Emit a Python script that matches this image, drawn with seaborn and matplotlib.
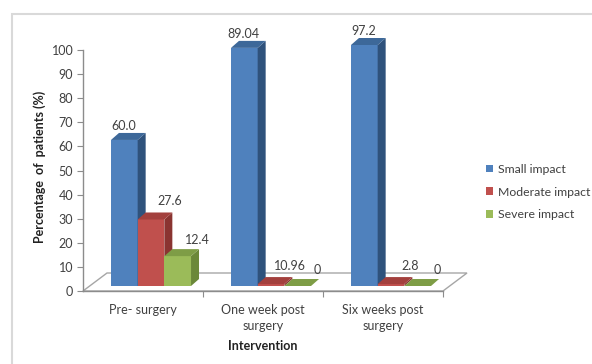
import numpy as np
import pandas as pd
import matplotlib
matplotlib.use("Agg")
import matplotlib.pyplot as plt
from matplotlib.patches import Polygon, Rectangle, Patch
from matplotlib.transforms import ScaledTranslation
import seaborn as sns

# values (bar heights) and the printed data labels
categories = ["Pre- surgery", "One week post\nsurgery", "Six weeks post\nsurgery"]
series = ["Small impact", "Moderate impact", "Severe impact"]
small_impact = [60.6, 98.8, 100.0]
moderate_impact = [27.6, 0.8, 0.8]
severe_impact = [12.4, 0.0, 0.0]
small_labels = ["60.0", "89.04", "97.2"]
moderate_labels = ["27.6", "10.96", "2.8"]
severe_labels = ["12.4", "0", "0"]
y_ticks = list(range(0, 101, 10))

front_colors = ["#4F81BD", "#C0504D", "#9BBB59"]
side_colors = ["#2F527C", "#8A3431", "#6B8839"]
top_colors = ["#3D6899", "#A3403D", "#7E9D46"]
text_color = "#404040"
axis_color = "#8C8C8C"

sns.set_theme(style="white")
plt.rcParams["font.family"] = ["Lato", "DejaVu Sans"]

df = pd.DataFrame({
    "Intervention": categories * 3,
    "Impact": np.repeat(series, 3),
    "Percent": small_impact + moderate_impact + severe_impact,
})
labels = [small_labels, moderate_labels, severe_labels]

W, H = 592, 364
fig = plt.figure(figsize=(W / 100, H / 100), dpi=100)
ax = fig.add_axes([83 / W, 73 / H, 360 / W, 241 / H])

sns.barplot(data=df, x="Intervention", y="Percent", hue="Impact",
            order=categories, hue_order=series, palette=front_colors,
            width=0.667, saturation=1, legend=False, ax=ax)
ax.set_xlim(-0.5, 2.5)
ax.set_ylim(0, 100)

# pixel -> data scale, used for the fake 3D depth
px_x = 360 / 3.0
px_y = 241 / 100.0

# floor of the 3D box
fdx, fdy = 24 / px_x, 18 / px_y
floor = Polygon([(-0.5, 0), (2.5, 0), (2.5 + fdx, fdy), (-0.5 + fdx, fdy)],
                closed=True, facecolor="white", edgecolor="#A6A6A6",
                lw=1, clip_on=False, zorder=1)
ax.add_patch(floor)

# bars sit a little inside the floor
shift = ax.transData + ScaledTranslation(8 / 100, 5 / 100, fig.dpi_scale_trans)
ddx, ddy = 8 / px_x, 7 / px_y
label_dx = [-1, 19, 20]
label_dy = [14, 18, 16]

for j, cont in enumerate(ax.containers):
    for k, bar in enumerate(cont):
        x0, w, h = bar.get_x(), bar.get_width(), bar.get_height()
        z = 3 + x0
        bar.set_transform(shift)
        bar.set_clip_on(False)
        bar.set_edgecolor("none")
        bar.set_zorder(z)
        side = Polygon([(x0 + w, 0), (x0 + w, h), (x0 + w + ddx, h + ddy), (x0 + w + ddx, ddy)],
                       closed=True, facecolor=side_colors[j], edgecolor="none",
                       transform=shift, clip_on=False, zorder=z)
        top = Polygon([(x0, h), (x0 + w, h), (x0 + w + ddx, h + ddy), (x0 + ddx, h + ddy)],
                      closed=True, facecolor=top_colors[j], edgecolor="none",
                      transform=shift, clip_on=False, zorder=z)
        ax.add_patch(side)
        ax.add_patch(top)
        ax.annotate(labels[j][k], xy=(x0 + w / 2, h), xycoords=shift,
                    xytext=(label_dx[j], label_dy[j]), textcoords="offset pixels",
                    ha="center", va="center", fontsize=9, color=text_color,
                    annotation_clip=False, zorder=20)

# axes styling
sns.despine(ax=ax, top=True, right=True)
for s in ["left", "bottom"]:
    ax.spines[s].set_color(axis_color)
    ax.spines[s].set_linewidth(1)
ax.set_yticks(y_ticks)
ax.tick_params(axis="y", length=4, width=0.8, color=axis_color, pad=3,
               labelsize=9, labelcolor=text_color, left=True)
ax.set_xticks([0, 1, 2])
ax.set_xticklabels(categories)
for t in ax.get_xticklabels():
    t.set_linespacing(1.5)
ax.set_xticks([0.5, 1.5, 2.5], minor=True)
ax.tick_params(axis="x", which="major", length=0, pad=9, labelsize=9, labelcolor=text_color)
ax.tick_params(axis="x", which="minor", length=4, width=0.8, color=axis_color, bottom=True)
ax.set_xlabel("")
ax.set_ylabel("")

fig.text(40 / W, 1 - 167 / H, "Percentage  of  patients (%)", rotation=90,
         ha="center", va="center", fontsize=9, fontweight="bold", color="#222222")
fig.text(263 / W, 1 - 346 / H, "Intervention", ha="center", va="center",
         fontsize=9, fontweight="bold", color="#222222")

handles = [Patch(facecolor=c, edgecolor="none") for c in front_colors]
fig.legend(handles, series, loc="center left", bbox_to_anchor=(486 / W, 1 - 192 / H),
           frameon=False, fontsize=8.8, handlelength=0.6, handleheight=0.6,
           handletextpad=0.4, labelspacing=0.95, borderpad=0, borderaxespad=0,
           labelcolor=text_color)

# chart area border (left and top edges visible)
fig.patches.append(Rectangle((12 / W, -0.1), 2, (H - 14) / H + 0.1,
                             transform=fig.transFigure, fill=False,
                             edgecolor="#D9D9D9", lw=1.5))

fig.savefig("out.png", dpi=100)
